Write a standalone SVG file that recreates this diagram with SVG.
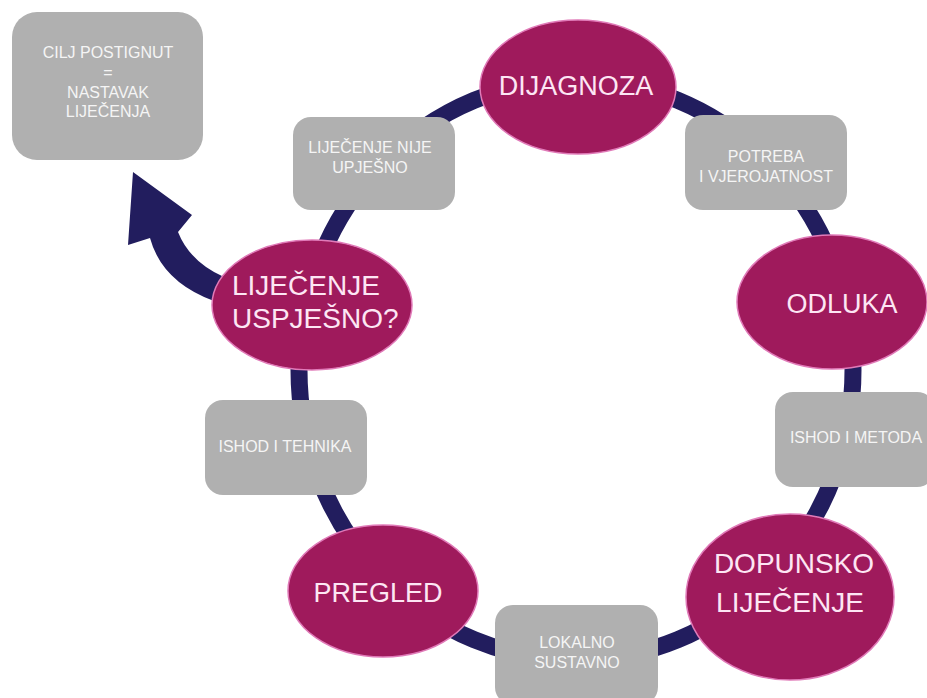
<svg xmlns="http://www.w3.org/2000/svg" width="927" height="698" viewBox="0 0 927 698">
<style>
.ell{fill:#9f1a5c;stroke:#e07ab8;stroke-width:1.5}
.box{fill:#b0b0b0}
.et{font-family:"Liberation Sans",Arial,sans-serif;fill:#fde6f4;text-anchor:middle}
.bt{font-family:"Liberation Sans",Arial,sans-serif;font-size:16px;fill:#f5f5f5;text-anchor:middle}
</style>
<rect width="927" height="698" fill="#ffffff"/>
<g id="connectors">
<ellipse cx="576" cy="370" rx="277" ry="290" fill="none" stroke="#221d5e" stroke-width="17"/>
<path d="M133 172 L192 215 L178 232 Q190 262 224 277 L214 301 Q162 282 150 238 L128 245 Z" fill="#221d5e"/>
</g>
<g id="cilj"><rect class="box" x="12" y="12" width="191" height="148" rx="25"/>
<text class="bt" x="108" y="58">CILJ POSTIGNUT</text><text class="bt" x="108" y="78">=</text><text class="bt" x="108" y="98">NASTAVAK</text><text class="bt" x="108" y="117">LIJEČENJA</text></g>
<g id="nije"><rect class="box" x="293" y="117" width="162" height="93" rx="18"/>
<text class="bt" x="370" y="153">LIJEČENJE NIJE</text><text class="bt" x="370" y="173">UPJEŠNO</text></g>
<g id="potreba"><rect class="box" x="685" y="115" width="162" height="95" rx="18"/>
<text class="bt" x="766" y="162">POTREBA</text><text class="bt" x="766" y="182">I VJEROJATNOST</text></g>
<g id="metoda"><rect class="box" x="775" y="392" width="160" height="95" rx="18"/>
<text class="bt" x="856" y="443">ISHOD I METODA</text></g>
<g id="tehnika"><rect class="box" x="205" y="400" width="162" height="95" rx="18"/>
<text class="bt" x="285" y="452">ISHOD I TEHNIKA</text></g>
<g id="lokalno"><rect class="box" x="495" y="605" width="163" height="100" rx="18"/>
<text class="bt" x="577" y="648">LOKALNO</text><text class="bt" x="577" y="668">SUSTAVNO</text></g>
<g id="dijagnoza"><ellipse class="ell" cx="578" cy="87" rx="98" ry="67"/>
<text class="et" x="576" y="95" font-size="27">DIJAGNOZA</text></g>
<g id="odluka"><ellipse class="ell" cx="832" cy="302" rx="95" ry="67"/>
<text class="et" x="842" y="313" font-size="27">ODLUKA</text></g>
<g id="dopunsko"><ellipse class="ell" cx="790" cy="597" rx="104" ry="83"/>
<text class="et" x="794" y="573" font-size="28">DOPUNSKO</text><text class="et" x="790" y="612" font-size="28">LIJEČENJE</text></g>
<g id="pregled"><ellipse class="ell" cx="383" cy="591" rx="95" ry="66"/>
<text class="et" x="378" y="602" font-size="27">PREGLED</text></g>
<g id="uspjesno"><ellipse class="ell" cx="312" cy="305" rx="100" ry="65"/>
<text class="et" x="232" y="295" font-size="28" style="text-anchor:start">LIJEČENJE</text><text class="et" x="232" y="328" font-size="28" style="text-anchor:start">USPJEŠNO?</text></g>
</svg>
